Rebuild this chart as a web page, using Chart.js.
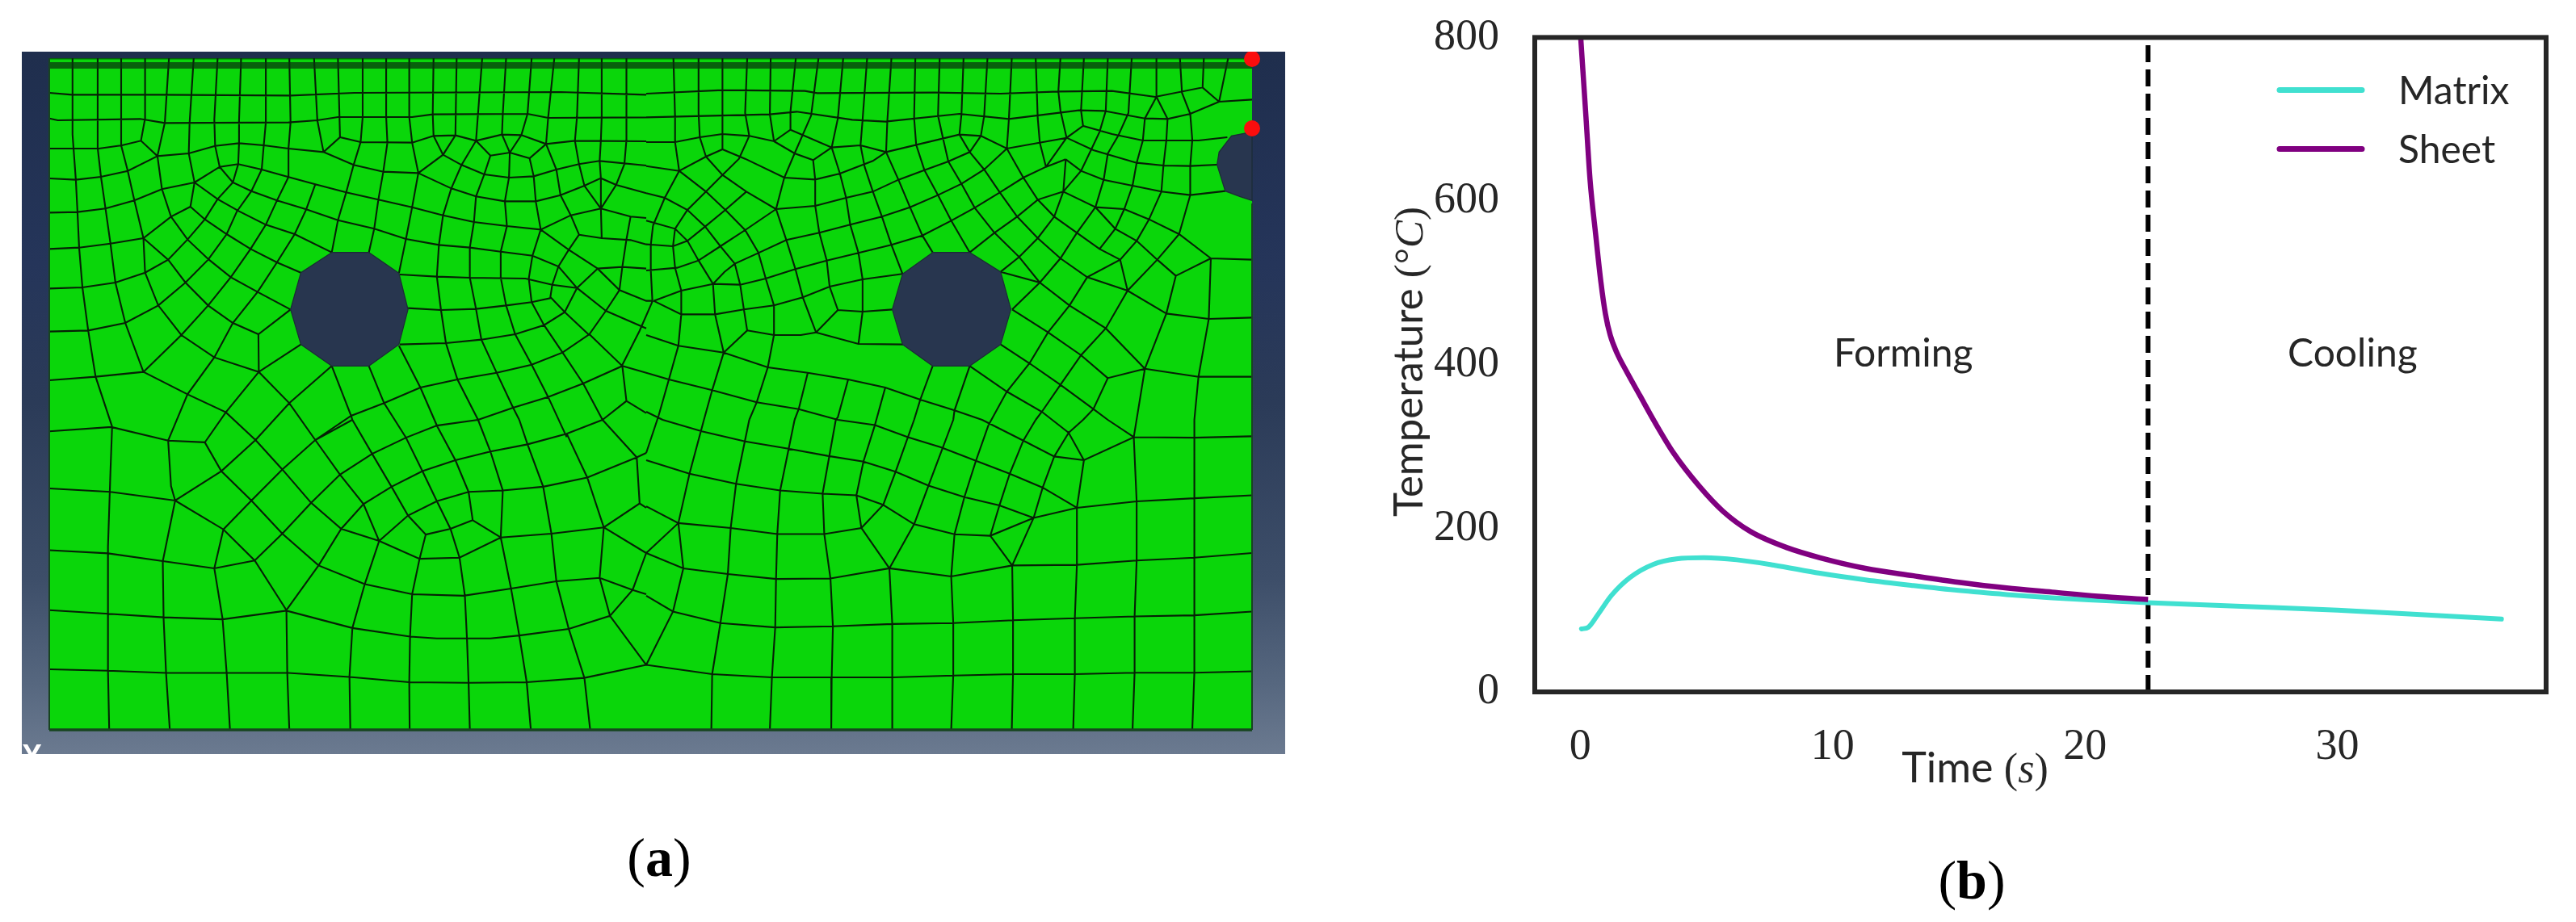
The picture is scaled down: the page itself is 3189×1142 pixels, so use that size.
<!DOCTYPE html>
<html><head><meta charset="utf-8">
<script src="https://cdn.jsdelivr.net/npm/chart.js@4"></script>
<style>
html,body{margin:0;padding:0;background:#fff;width:3189px;height:1142px;overflow:hidden}
canvas{position:absolute;display:block}
#meshCanvas{left:27px;top:64px;background:linear-gradient(180deg,#1f2e4d 0%,#25355a 30%,#2b3b58 50%,#3d4e69 75%,#56677f 90%,#6b7a90 100%)}
#curveCanvas{left:1660px;top:-22px}
.t{position:absolute;white-space:nowrap;color:#262626;font-family:Lato,sans-serif;line-height:1}
.m{font-family:"Liberation Serif",serif}
.i{font-family:"Liberation Serif",serif;font-style:italic}
.cap{position:absolute;white-space:nowrap;color:#000;font-family:"Liberation Serif",serif;font-size:68px;line-height:1;transform:translate(-50%,-50%)}
#y{position:absolute;left:27px;top:922px;width:26px;height:12px;overflow:hidden;color:#fff;font:bold 38px "Liberation Sans",sans-serif;line-height:38px}
#y span{position:relative;top:-6px;display:block;line-height:38px}
</style></head><body>
<canvas id="meshCanvas" width="1564" height="870"></canvas>
<canvas id="curveCanvas" width="1529" height="1164"></canvas>
<div id="y"><span>Y</span></div>
<div class="cap" style="left:816px;top:1062px">(<b>a</b>)</div>
<div class="cap" style="left:2441px;top:1090px">(<b>b</b>)</div>
<div class="t" id="yTitle" style="left:1743px;top:448px;font-size:51px;transform:translate(-50%,-50%) rotate(-90deg)">Temperature <span class="m">(°</span><span class="i">C</span><span class="m">)</span></div>
<div class="t" id="xTitle" style="left:2445px;top:950px;font-size:52px;transform:translate(-50%,-50%)">Time <span class="m">(</span><span class="i">s</span><span class="m">)</span></div>
<script>
/* ---------- panel (b) data ---------- */
const sheetTime=[0.02,0.23,0.39,0.61,0.82,1.0,1.19,1.46,1.83,2.37,2.95,3.7,4.73,5.65,6.75,8.22,9.5,11.3,13.2,15,16.9,18.7,20.5,22.5];
const sheetTemp=[800,702,626,560,501,462,436,414,392,362,330,292,251,221,196,176,164,151,142,134,127,122,117,113];
const matrixTime=[0.05,0.32,0.69,1.24,1.98,2.9,3.81,4.9,6.2,7.67,9.5,11.3,13.2,15,16.9,18.7,20.5,22.5,26.4,30,33,36.5];
const matrixTemp=[77,79,94,118,140,156,162.5,164,161.5,155,145,137,130,124,119,115,112,109,104.4,100,95,89];
const seriesNames=["Matrix","Sheet"];
const dividerTime=[22.5,22.5];
const dividerTemp=[0,800];
const regionNames=["Forming","Cooling"];
const regionTimes=[12.8,30.6];
const regionTemps=[413,413];
const yTicks=[0,200,400,600,800];
const xTicks=[0,10,20,30];

/* ---------- panel (a) mesh; each list is one tile of x,y pairs ---------- */
const meshTL=[
[120,225,175,232,388,232,705,235,860,225,1360,222,1568,232],
[120,320,140,327,340,322,400,337,700,335,770,327,820,315,1000,315,1050,305,1280,303,1330,318,1568,316],
[120,432,240,432,296,420,342,403,382,460,458,450,522,422,580,412,640,420,700,432,785,445,825,390,875,408,1000,410,1052,385,1105,383,1155,403,1218,380,1265,382,1325,415,1395,403,1568,405],
[120,543,184,548,245,537,310,515,382,460],
[785,445,858,493,930,518,1015,523,1075,455,1120,493,1175,528,1235,540,1295,535,1350,510,1405,490,1455,478,1568,495],
[472,558,533,500,578,490,635,510,700,538,765,565,840,595,918,622,1000,650,1075,680,1150,705,1230,720,1312,733,1385,680,1458,655,1530,685,1568,690],
[120,670,188,668,256,655,326,625,393,583,472,558],
[1015,523,1095,580,1155,610,1225,628,1300,628,1360,605,1418,570,1458,542,1495,567,1568,598],
[120,805,192,800,268,785,348,765,415,685,462,648],
[120,952,200,948,280,930,352,893,408,845,455,770,497,695,528,620,565,558,578,490],
[120,1112,214,1108,304,1080,384,1015,450,930,505,845,550,750,575,665,610,590,635,510],
[120,1293,232,1280,348,1262,440,1125,505,1015,560,910,608,805,645,715,672,625,700,538],
[408,1517,455,1345,520,1208,565,1080,625,965,672,855,715,750,743,658,765,565],
[840,595,820,698,805,818],[918,622,908,730,895,818],[1000,650,985,768,968,895],
[472,558,528,620,580,665,645,715,715,750,805,818],
[462,648,497,695,550,750,608,805,672,855,730,893],
[415,685,455,770,507,845,560,910,625,965,705,1030],
[348,765,408,845,450,930,505,1015,565,1080,627,1122,705,1030],
[352,893,384,1015,440,1125,520,1208,628,1262,702,1378,765,1515],
[627,1122,628,1262,730,1160],
[348,1262,455,1345,548,1412,620,1515],
[628,1262,548,1412,497,1524],
[805,1240,702,1378,620,1515],
[895,1240,932,1378,985,1506],[805,1240,852,1425,855,1440],[968,1165,1020,1320,1060,1461],
[970,1160,1082,1155,1168,1142,1250,1122,1320,1088,1370,1040,1400,950],
[970,900,1060,908,1140,912,1275,915,1340,938,1400,950],
[990,1025,1070,1032,1155,1028,1228,1015,1290,1003,1335,988,1340,938,1355,870],
[1075,680,1065,790,1060,908,1070,1032,1082,1155,1110,1290,1155,1425,1160,1440],
[1150,705,1140,800,1140,912,1155,1028,1168,1142,1205,1265,1245,1395,1260,1440],
[1230,720,1215,815,1215,912,1228,1015,1250,1122,1290,1235,1330,1355,1375,1504],
[1312,733,1292,830,1283,915,1290,1003,1320,1088,1365,1190,1415,1305,1462,1440],
[1312,733,1380,808,1450,878,1503,958,1568,998,1583,998],
[1385,680,1405,752,1380,808,1355,870],
[1405,752,1460,765,1530,772,1568,788],[1450,878,1510,872,1568,878],[1450,878,1400,950],
[1458,655,1460,765],
[1503,958,1470,1035,1430,1122,1365,1190,1290,1235,1205,1265,1110,1290,1020,1320,932,1378,852,1425,765,1515],
[1430,1122,1510,1240,1415,1305,1330,1355,1245,1395,1160,1440],
[1510,1240,1520,1370,1462,1440],[1520,1370,1568,1415],[1510,1240,1568,1265],[1470,1035,1568,1100],[1510,872,1503,958],
[176,96,176,380,184,548,188,668,192,800,200,948,214,1108,232,1280,272,1465],
[237,96,237,430,245,537,256,655,268,785,280,930,304,1080,348,1262],
[294,96,294,420,310,515,326,625,348,765,352,893],
[352,96,352,320,342,403],
[410,96,400,335,382,460,393,583,415,685],
[470,96,460,338,458,450,472,558,462,648],
[528,96,520,325,522,422,533,500,565,558,610,590,672,625,743,658,820,698,908,730,985,768,1065,790,1140,800,1215,815,1292,830,1355,870,1400,950,1470,1035],
[585,96,580,330,580,412,578,490],[645,96,645,335,640,420,635,510],[702,96,705,335,700,432,700,538],[762,96,770,327,785,445],[820,96,825,390],
[880,96,880,315,875,408,858,493,840,595],[937,96,937,315,940,410,930,518,918,622],[993,96,993,315,1000,410,1015,523,1000,650],
[1052,96,1050,305,1052,385,1075,455],[1108,96,1105,383,1075,455,1015,523],
[1170,96,1160,300,1155,403,1190,458,1175,528,1155,610,1150,705],[1155,403,1120,493,1095,580,1075,680],
[1228,96,1220,303,1218,380,1237,447,1235,540,1225,628,1230,720],[1290,96,1280,303,1265,382,1237,447],
[1190,458,1237,447,1285,468,1325,415],[1285,468,1295,535,1300,628,1312,733],
[1345,96,1330,318,1325,415,1350,510,1360,605,1385,680],[1405,96,1400,315,1395,403,1405,490,1418,570,1458,655],
[1460,96,1460,316,1458,400,1455,478,1458,542,1458,655],[1520,96,1520,400,1515,490,1495,567,1458,655],[1530,685,1520,770,1510,872]
];
const meshTR=[
[0,228,185,215,385,218,415,226,700,224,860,228,1000,220,1130,218,1235,240,1350,205,1390,258,1470,250],
[0,316,300,305,365,295,500,325,580,332,760,303,880,322,1050,290,1110,292,1210,320,1265,322,1320,303,1390,258],
[0,408,70,408,130,390,185,378,250,385,310,405,350,362,450,428,520,420,582,445,760,380,812,385,875,432,1020,392,1060,348,1130,378,1205,402,1340,402,1410,390],
[0,497,80,515,145,462,185,435,240,470,335,540,410,547,470,525,550,478,582,445],
[310,405,360,450,405,475,450,428],
[80,515,145,592,192,660,240,735,272,818,290,915,310,1015,310,1125,295,1245,268,1375,250,1440],
[145,462,185,530,243,592,315,657,340,772,362,880,380,985,412,1115],
[315,657,240,735,180,795,127,848,75,875,0,885],
[243,592,192,660,143,722,100,775,65,795,12,789,0,788],
[185,530,145,592,100,660,70,730,65,795,70,875,85,960,85,1048,78,1165,55,1290,30,1425,0,1563],
[80,515,45,615,16,720],
[0,598,45,615,100,660,143,722,180,795,215,860,228,938,237,1030,245,1108,188,1190],
[0,700,70,730,100,775,127,848,162,935,167,1048,188,1190,160,1330,140,1440],
[162,935,190,890,215,860,272,820,340,772,420,745,495,715,572,685,640,650,708,605,765,563,820,510,875,432],
[162,935,228,938,290,915,362,880,438,848,515,820,595,790,670,755,740,700,797,652,858,595,915,540,970,500,1018,472],
[315,657,410,645,485,615,550,592,612,548,675,512,733,480,785,445,812,385],
[18,998,85,960,162,935],
[18,998,85,1048,167,1048,237,1030,310,1015,380,985,445,945,525,918,622,898],
[245,1108,310,1125,375,1125,412,1115,465,1032,525,1038,597,1030],
[412,1115,515,1158,625,1160],
[420,745,438,848,445,945,465,1032,412,1115],
[0,1125,78,1165,188,1190,295,1245,392,1265,490,1290,580,1320,665,1365,748,1405,815,1440],
[0,1265,55,1290,160,1330,268,1375,370,1400,465,1440],
[0,1410,40,1440],
[392,1265,370,1400,360,1440],[490,1290,465,1430,460,1440],[580,1320,555,1459],
[695,1240,665,1365,650,1440],[785,1240,748,1405,745,1440],
[785,1240,875,1335,960,1410,1025,1488],
[860,1160,930,1230,1005,1310,1085,1400,1120,1440],
[888,1030,975,1115,1055,1200,1120,1285],
[860,890,955,930,1027,1015,1115,1100,1210,1250],
[785,818,845,745,900,685,950,622,1012,592,1018,472],
[860,890,905,835,950,765,990,685,1012,592],
[845,745,905,835,955,930],
[900,685,950,765,1005,840,1070,910,1168,960,1262,1045],
[950,622,990,685,1045,745,1100,805,1150,845,1168,960],
[1012,592,1090,650,1138,730,1190,775,1240,845,1285,905],
[1090,650,1160,657,1220,695,1293,750,1370,840],
[1370,840,1285,905,1262,1045,1210,1250],
[1293,750,1240,845,1168,960,1115,1100,1055,1200,1005,1310,960,1410,945,1440],
[1220,695,1190,775,1150,845,1070,910,1027,1015,975,1115,930,1230,875,1335,830,1461],
[1090,650,1045,745,1005,840,955,930,888,1030],
[1160,657,1138,730,1100,805],
[1262,1045,1365,1065,1470,1060],[1210,1250,1340,1280,1470,1280],[1210,1250,1120,1285,1085,1400,1060,1440],
[1370,840,1470,845],[1370,840,1365,1065,1340,1280,1330,1440],[1210,1250,1183,1504],
[1018,472,1055,515,1110,548,1180,570,1250,592,1320,605,1405,590],
[875,432,915,540,950,622],[760,380,785,445,820,510,858,595,900,685],
[582,445,612,548,640,650,670,755,695,818],[675,512,708,605,740,700,785,818],
[530,500,550,592,572,685,595,790,622,898],[470,525,485,615,495,715,515,820,525,918,525,1038,515,1158],
[410,547,410,645,420,745],[733,480,765,563,797,652,845,745],[1020,392,970,500],
[1020,392,1085,438,1190,485,1255,495,1320,497,1385,492],
[66,96,70,316,70,408,80,515],[127,96,127,300,130,390,145,462],[185,96,185,378,185,435],[245,96,240,300,250,385,225,470,185,530],
[302,96,300,305,310,405],[363,96,350,295,350,362],[418,96,400,310,360,450,335,540,315,657],[478,96,465,320,450,428,470,525],
[536,96,525,325,520,420,530,500],[595,96,585,330,582,445],[653,96,650,318,655,418,675,512],[712,96,708,310,720,393,733,480],
[770,96,765,303,760,380],[828,96,820,310,812,385],[887,96,880,322,875,432],[945,96,950,320,955,410,970,500],
[1005,96,1000,220,1005,290,1020,392],[1062,96,1055,290,1060,348],[1120,96,1115,292,1100,370,1080,435,1055,515,1012,592],
[1178,96,1170,300,1145,385,1120,450,1110,548,1090,650],[1238,96,1238,240,1210,320,1205,402,1190,485,1180,570,1160,657],
[1238,240,1265,322,1262,402,1255,495,1250,592,1220,695],[1295,96,1300,225,1320,303,1325,400,1320,497,1320,605,1293,750],
[1353,96,1350,205],[1412,96,1390,258],[405,475,410,547]
];
const meshBL=[
[120,40,270,25,408,72,497,78,537,178,610,280,685,395,773,505,885,570,1000,605,1125,610,1240,585,1350,560,1455,548,1535,590,1568,605],
[272,25,268,180,262,440,262,870,265,1075],
[408,72,415,230,425,280,395,490,397,690,403,880,412,1075],
[120,238,268,250,425,280,537,178,620,70],
[425,280,542,380,618,488,695,660],
[542,380,610,280,685,172,765,70,855,0],
[618,488,685,395,755,288,825,190,903,118,985,62,1060,20,1160,0],
[773,505,695,660],
[773,505,828,378,882,292,950,232,1025,178,1105,140,1190,110,1280,85,1375,48,1462,0],
[620,70,685,172,755,288,828,378,920,420,1018,482,1115,478,1215,408,1338,395,1465,373,1552,290,1568,305],
[1465,373,1568,462],
[765,70,825,190,882,292,920,420,885,570,855,722,848,890,850,1075],
[855,0,903,118,950,232,990,332,1033,398,1018,482,1000,605,995,750,993,910,994,1075],
[985,62,1025,178,1060,282,1093,378,1115,478,1128,610,1133,757,1137,912,1140,1075],
[1060,20,1105,140,1137,250,1147,348,1215,408,1240,585,1260,748,1278,910,1288,1075],
[1160,0,1190,110,1220,245,1215,408],
[1260,0,1280,85,1318,232,1338,395,1350,560,1380,725,1418,895,1432,1075],
[1375,48,1425,200,1465,373,1455,548,1480,680,1568,850],
[1462,0,1545,130,1552,290],
[920,420,990,332,1060,282,1137,250,1220,245,1318,232,1425,200,1545,130,1568,115],
[1033,398,1093,378,1147,348],
[120,452,262,463,395,490,520,515,618,488],
[542,380,520,515,540,690,550,878,558,1075],
[120,660,255,672,397,685,540,692,695,662,855,722,995,752,1060,758,1190,758,1260,748,1380,725,1480,680,1535,590,1568,462],
[695,662,697,878,702,1075],
[120,865,262,870,403,878,700,878,848,892,993,910,1137,912,1278,910,1418,895,1568,850]
];
const meshBR=[
[0,850,160,882,305,893,597,893,745,887,890,882,1040,882,1185,877,1330,877,1470,872],
[0,850,65,665,90,515,78,358,0,462],
[0,462,90,515,198,535,315,552,447,550,590,515,740,543,888,505,1045,503,1190,488,1330,478,1470,462],
[0,610,65,665,180,705,313,720,453,716,597,708,745,705,890,695,1040,688,1185,682,1330,678,1470,665],
[0,300,78,358,205,375,318,396,432,396,522,375,575,295,650,362,748,397,835,402,940,340,1045,305,1190,283,1330,272,1470,262],
[0,140,105,187,218,222,325,245,428,256,510,262,575,295],
[40,0,135,40,240,75,345,100,440,125,527,145,605,180,685,228,772,268,857,297,940,340],
[465,0,555,18,635,60,715,95,800,142,882,187,962,235,1045,305],
[815,0,915,72,990,127,1062,140,1183,60,1330,62,1470,57],
[1183,60,1120,0],[1062,140,1025,45,990,127],[1025,45,1060,0],
[160,882,158,1075],[305,893,300,1075],[450,893,449,1075],[597,893,597,1075],[745,887,740,1075],[890,882,887,1075],[1040,882,1036,1075],[1185,877,1180,1075],[1330,877,1325,1075],
[180,705,160,882],[313,720,305,893],[453,716,450,893],[597,708,597,893],[745,705,745,887],[890,695,890,882],[1040,688,1040,882],[1185,682,1185,877],[1330,678,1330,877],
[198,535,180,705],[315,552,313,720],[447,550,453,716],[590,515,597,708],[740,543,745,705],[888,505,890,695],[1045,503,1040,688],[1190,488,1185,682],[1330,478,1330,678],
[205,375,198,535],[318,396,315,552],[432,396,447,550],[522,375,590,515],[650,362,590,515],[748,397,740,543],[835,402,888,505],[940,340,888,505],[1045,305,1045,503],[1190,283,1190,488],[1330,272,1330,478],
[140,0,105,187,78,358],[250,0,218,222,205,375],[360,0,325,245,318,396],[460,0,428,256,432,396],[555,18,527,145,510,262,522,375],
[650,0,605,180,575,295],[745,0,685,228,650,362],[830,20,800,142,772,268,748,397],[945,0,915,72,882,187,857,297,835,402],[990,127,962,235,940,340],[1062,140,1045,305],[1183,60,1190,283],[1330,0,1330,272]
];
const meshCentre=[
[445,0,437,70,437,165,443,280,395,390,330,518],
[65,265,118,320,205,402]
];
const holeLeft=[805,818,895,818,968,895,990,1030,968,1160,895,1240,805,1240,730,1160,705,1030,730,893,805,818];
const holeRight=[695,818,785,818,860,890,885,1030,860,1160,785,1240,695,1240,622,1160,597,1030,622,898,695,818];
const holeEdge=[1470,370,1420,385,1390,445,1385,492,1405,590,1440,610,1470,625,1470,370];
const bandLevels=[72.5,78,79.5,81,82.5,84];
const markerX=[1550,1550];
const markerY=[73,159];

/* tile origins and zoom factors turn traced pairs into mesh coordinates */
const tile=(x0,y0,sx,sy)=>(a)=>{const o=[];for(let i=0;i<a.length;i+=2)o.push({x:x0+a[i]/sx,y:y0+a[i+1]/sy});return o;};
const tl=tile(0,40,1.96,3),tr=tile(800,40,1.96,3),bl=tile(0,520,1.96,2.8),br=tile(800,520,1.96,2.8),ce=tile(660,280,3,3);
const gap={x:NaN,y:NaN};
const meshPts=[];
[[meshTL,tl],[meshTR,tr],[meshBL,bl],[meshBR,br],[meshCentre,ce]].forEach(([list,f])=>list.forEach(p=>{meshPts.push(...f(p),gap);}));
const bandPts=[];
bandLevels.forEach(v=>{bandPts.push({x:61,y:v},{x:1550,y:v},gap);});
const holeSet=(pts)=>({data:pts,showLine:true,fill:'shape',backgroundColor:'#28364f',borderColor:'#1b2c34',borderWidth:1.2,pointRadius:0,tension:0,clip:false});

new Chart(document.getElementById('meshCanvas'),{
 type:'scatter',
 data:{datasets:[
  {data:markerX.map((x,i)=>({x,y:markerY[i]})),showLine:false,pointRadius:10,pointBackgroundColor:'#fb0d0d',pointBorderWidth:0,clip:false},
  holeSet(tr(holeEdge)),holeSet(tl(holeLeft)),holeSet(tr(holeRight)),
  {data:bandPts,showLine:true,spanGaps:false,borderColor:'rgba(8,50,14,0.72)',borderWidth:1.8,pointRadius:0,tension:0},
  {data:meshPts,showLine:true,spanGaps:false,borderColor:'#062006',borderWidth:2.1,pointRadius:0,tension:0}
 ]},
 plugins:[{id:'meshFrame',
  beforeDatasetsDraw(c){const a=c.chartArea,g=c.ctx;g.save();g.fillStyle='#0ad60a';g.fillRect(a.left,a.top,a.width,a.height);g.restore();},
  afterDatasetsDraw(c){const a=c.chartArea,g=c.ctx;g.save();g.strokeStyle='#16451f';g.lineWidth=2;g.beginPath();g.moveTo(a.left,a.top);g.lineTo(a.left,a.bottom);g.moveTo(a.right,a.top+180);g.lineTo(a.right,a.bottom);g.stroke();g.lineWidth=3.5;g.beginPath();g.moveTo(a.left,a.bottom);g.lineTo(a.right,a.bottom);g.stroke();g.restore();}
 }],
 options:{responsive:false,animation:false,events:[],
  layout:{autoPadding:false,padding:{left:34,right:41,top:8,bottom:30}},
  plugins:{legend:{display:false},tooltip:{enabled:false}},
  scales:{x:{type:'linear',display:false,min:61,max:1550},y:{type:'linear',display:false,reverse:true,min:72,max:904}}}
});

const curveFont='"Liberation Serif",serif';
new Chart(document.getElementById('curveCanvas'),{
 type:'scatter',
 data:{datasets:[
  {label:seriesNames[1],data:sheetTime.map((x,i)=>({x,y:sheetTemp[i]})),showLine:true,borderColor:'#800080',borderWidth:6.5,pointRadius:0,cubicInterpolationMode:'monotone',borderCapStyle:'butt'},
  {label:seriesNames[0],data:matrixTime.map((x,i)=>({x,y:matrixTemp[i]})),showLine:true,borderColor:'#40e0d0',borderWidth:6,pointRadius:0,cubicInterpolationMode:'monotone',borderCapStyle:'round'},
  {label:'divider',data:dividerTime.map((x,i)=>({x,y:dividerTemp[i]})),showLine:true,borderColor:'#000',borderWidth:6,borderDash:[21,9],pointRadius:0,tension:0}
 ]},
 plugins:[{id:'curveExtras',
  afterDatasetsDraw(c){
   const a=c.chartArea,g=c.ctx,sx=c.scales.x,sy=c.scales.y;
   g.save();
   g.strokeStyle='#262626';g.lineWidth=6;g.strokeRect(a.left,a.top,a.width,a.height);
   g.fillStyle='#262626';g.font='48px Lato, sans-serif';g.textBaseline='middle';
   g.textAlign='center';
   regionNames.forEach((n,i)=>g.fillText(n,sx.getPixelForValue(regionTimes[i]),sy.getPixelForValue(regionTemps[i])));
   g.textAlign='left';
   const colors=['#40e0d0','#800080'];
   seriesNames.forEach((n,i)=>{
    const y=a.top+65+i*73;
    g.strokeStyle=colors[i];g.lineWidth=7;g.lineCap='round';g.beginPath();g.moveTo(a.right-330,y);g.lineTo(a.right-228,y);g.stroke();
    g.fillText(n,a.right-183,y+2);
   });
   g.restore();
  }}],
 options:{responsive:false,animation:false,events:[],
  layout:{autoPadding:false,padding:{left:0,right:37,top:21,bottom:0}},
  plugins:{legend:{display:false},tooltip:{enabled:false}},
  scales:{
   x:{type:'linear',min:-1.8,max:38.27,grid:{display:false},border:{display:false},
      afterFit(s){s.height=285;},
      afterBuildTicks(s){s.ticks=xTicks.map(v=>({value:v}));},
      ticks:{font:{family:curveFont,size:54},color:'#262626',padding:28,maxRotation:0}},
   y:{type:'linear',min:0,max:800,grid:{display:false},border:{display:false},
      afterFit(s){s.width=240;},
      afterBuildTicks(s){s.ticks=yTicks.map(v=>({value:v}));},
      ticks:{font:{family:curveFont,size:54},color:'#262626',padding:36}}
  }}
});
</script>
</body></html>
